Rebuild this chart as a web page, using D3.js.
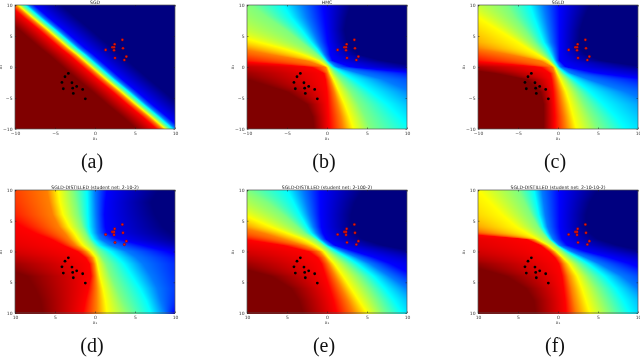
<!DOCTYPE html>
<html>
<head>
<meta charset="utf-8">
<script src="https://cdn.jsdelivr.net/npm/d3@7"></script>
<style>
  html, body { margin: 0; padding: 0; background: #fff; }
  #wrap { position: relative; width: 640px; height: 358px; overflow: hidden; }
  canvas { position: absolute; filter: blur(0.7px); clip-path: inset(0); }
  svg { position: absolute; left: 0; top: 0; filter: blur(0.25px); }
</style>
</head>
<body>
<div id="wrap"></div>
<script>
// the heat fields are kept as contours: for each level, where it crosses each row (x1 at that x2)
var rowsY = [10, 8, 6, 4, 3, 2, 1, 0, -1, -2, -4, -6, -8, -10];
var levels = [1, 0.89, 0.77, 0.65, 0.5, 0.36, 0.23, 0.11, 0];

var sgdField = [
  [-13.2, -11.4, -9.5, -7.7, -6.8, -5.8, -4.9, -4, -3.1, -2.2, -0.3, 1.5, 3.4, 5.2],
  [-10.7, -8.9, -7, -5.2, -4.3, -3.3, -2.4, -1.5, -0.6, 0.3, 2.2, 4, 5.9, 7.7],
  [-10, -8.2, -6.3, -4.5, -3.6, -2.6, -1.7, -0.8, 0.1, 1, 2.9, 4.7, 6.6, 8.4],
  [-9.6, -7.8, -5.9, -4.1, -3.2, -2.2, -1.3, -0.4, 0.5, 1.4, 3.3, 5.1, 7, 8.8],
  [-9.2, -7.4, -5.5, -3.7, -2.8, -1.8, -0.9, 0, 0.9, 1.8, 3.7, 5.5, 7.4, 9.2],
  [-8.7, -6.9, -5, -3.2, -2.3, -1.3, -0.4, 0.5, 1.4, 2.3, 4.2, 6, 7.9, 9.7],
  [-8.3, -6.5, -4.6, -2.8, -1.9, -0.9, 0, 0.9, 1.8, 2.7, 4.6, 6.4, 8.3, 10.1],
  [-7.6, -5.8, -3.9, -2.1, -1.2, -0.2, 0.7, 1.6, 2.5, 3.4, 5.3, 7.1, 9, 10.8],
  [-4.2, -2.4, -0.5, 1.3, 2.2, 3.2, 4.1, 5, 5.9, 6.8, 8.7, 10.5, 12.4, 14.2]
];
var hmcField = [
  [-40, -38, -36, -34, -32, -30, -28, -18, -13, -10, -5, -2.5, -1.8, -1.6],
  [-28, -26, -24, -22, -20, -17, -12, -2, -0.4, -0.2, 0, 0.1, 0.2, 0.3],
  [-24, -22, -19, -15, -11, -7, -2.5, -0.2, 0.1, 0.4, 0.9, 1.3, 1.7, 2],
  [-20, -18, -14, -8.5, -5.5, -3, -1, 0.1, 0.4, 0.8, 1.5, 2.2, 2.8, 3.3],
  [-9.5, -7.5, -5.2, -3.2, -2.2, -1.2, -0.3, 0.4, 1, 1.7, 3, 4, 4.8, 5.5],
  [-5.5, -4.5, -3.2, -2, -1.3, -0.7, -0.1, 0.7, 2, 3.3, 5.5, 7.5, 9, 10.5],
  [-3, -2.5, -1.8, -1.1, -0.7, -0.3, 0.2, 1.2, 4, 7, 10.5, 13, 15, 17],
  [-0.5, -0.3, -0.1, 0.1, 0.3, 0.4, 0.7, 3, 11, 16, 20, 22, 24, 26],
  [3, 2.5, 2.2, 2.5, 3, 4, 7, 12, 20, 24, 28, 30, 32, 34]
];
var sgldField = [
  [-40, -38, -36, -34, -32, -30, -26, -14, -8, -4, -2.2, -1.8, -1.8, -1.8],
  [-26, -24, -22, -20, -18, -15, -11, -2.2, -1, -0.8, -0.6, -0.5, -0.4, -0.4],
  [-20, -18, -16, -13, -10, -6, -2.2, -0.7, -0.4, -0.2, 0.2, 0.5, 0.8, 1],
  [-13, -10, -7.5, -5, -3.8, -2.5, -1.2, -0.4, -0.1, 0.3, 1, 1.5, 1.9, 2.3],
  [-6.5, -5.5, -4.2, -3, -2.3, -1.6, -0.9, -0.2, 0.4, 1.2, 2.4, 3.3, 4.2, 5],
  [-3.5, -3, -2.4, -1.8, -1.3, -0.9, -0.5, 0, 0.9, 2, 4, 5.7, 7.2, 8.5],
  [-1.8, -1.5, -1.2, -0.9, -0.6, -0.4, -0.2, 0.3, 1.6, 3.8, 8.5, 12, 14, 16],
  [0.2, 0.2, 0.2, 0.2, 0.2, 0.2, 0.2, 1, 5, 11, 18, 22, 24, 26],
  [4, 3.3, 2.8, 2.6, 2.8, 3.5, 5.5, 11, 18, 24, 28, 30, 32, 34]
];
var distilled10Field = [
  [-50, -48, -46, -44, -42, -40, -34, -26, -18, -13, -8.5, -7.5, -6.8, -6.5],
  [-14, -13, -11.5, -9, -7.5, -5.5, -4, -2.2, -1.2, -0.7, -0.5, -0.8, -1.2, -1.5],
  [-6, -5.7, -5.3, -4.5, -3.8, -3.2, -2.4, -1.2, -0.4, -0.1, 0.1, 0.2, 0.2, 0.2],
  [-4.6, -4.4, -4, -3.2, -2.6, -2.1, -1.5, -0.5, 0.1, 0.3, 0.6, 1, 1.3, 1.5],
  [-2.7, -2.4, -2.1, -1.6, -1.2, -0.8, -0.2, 0.4, 0.9, 1.4, 2, 2.7, 3.4, 4.2],
  [-1, -0.95, -0.9, -0.8, -0.6, -0.2, 0.5, 1.9, 2.8, 3.6, 4.6, 5.6, 6.4, 7],
  [0, 0.05, 0.1, 0.2, 0.3, 0.7, 2, 4, 5.2, 6, 7, 7.8, 8.2, 8.7],
  [1.5, 1.3, 1.2, 1.3, 1.5, 3, 6, 9, 11, 12, 12, 12, 11, 9.8],
  [8, 7, 7.5, 8.5, 9.5, 11, 13, 16, 20, 24, 28, 30, 32, 34]
];
var distilled100Field = [
  [-50, -48, -46, -44, -42, -40, -36, -26, -18, -13, -7, -4.5, -3.5, -3],
  [-28, -26, -24, -20, -16, -10.5, -5.5, -2.3, -1.2, -0.7, -0.2, 0.3, 0.8, 1.2],
  [-20, -18, -15, -11, -8, -5.5, -2.9, -1, -0.3, 0.2, 1, 1.8, 2.6, 3.3],
  [-16, -14, -10.5, -7, -5, -2.9, -1.5, -0.4, 0.2, 0.9, 2, 3, 4, 5],
  [-10, -7.5, -5.5, -3.7, -2.8, -1.5, -0.5, 0.4, 1.4, 2.4, 4, 5.2, 6.2, 7],
  [-5, -4.2, -3.4, -2.5, -2, -1.1, -0.1, 1.2, 2.6, 3.8, 5.8, 7.2, 8.4, 9.4],
  [-3, -2.6, -2.2, -1.7, -1.3, -0.7, 0.3, 2, 3.8, 5.4, 7.8, 10, 12, 13],
  [-0.8, -0.8, -0.8, -0.7, -0.5, -0.1, 1, 3.5, 6, 8, 11, 14, 16, 18],
  [4.5, 3.5, 3, 3, 3.5, 4.5, 7, 11, 15, 20, 25, 28, 30, 32]
];
var distilledDeepField = [
  [-50, -48, -46, -44, -42, -40, -36, -26, -18, -12, -6.5, -4, -3, -2.8],
  [-28, -26, -24, -22, -13, -4, -2.2, -1.2, -0.4, 0.1, 0.5, 0.7, 0.9, 1],
  [-22, -20, -17, -12, -8.5, -3.2, -1.7, -0.6, 0.2, 0.7, 1.3, 1.7, 2, 2.3],
  [-10, -8.5, -7, -5.2, -3.9, -2.6, -1.2, -0.2, 0.6, 1.4, 2.4, 3, 3.5, 4],
  [-5, -4.2, -3.4, -2.5, -1.9, -1.2, -0.3, 0.6, 1.5, 2.5, 3.9, 5, 5.8, 6.5],
  [-3, -2.7, -2.4, -1.9, -1.5, -1, -0.1, 1.1, 2.5, 3.8, 5.8, 7.2, 8.2, 9],
  [-2, -1.8, -1.6, -1.3, -1, -0.6, 0.2, 1.7, 3.5, 5.2, 8, 10, 12, 13],
  [0.2, 0.2, 0.2, 0.2, 0.3, 0.5, 1.2, 3.5, 6.5, 9, 13, 15, 17, 19],
  [5, 4, 3.5, 3.5, 4, 5, 7.5, 11, 15, 20, 25, 28, 30, 32]
];

var blackX = [-3.33, -3.75, -4.13, -2.88, -2.29, -2.79, -3.96, -1.54, -2.71, -1.21];
var blackY = [-1.03, -1.57, -2.49, -2.54, -3.14, -3.41, -3.51, -3.62, -4.27, -5.14];
var redX = [2.46, 3.42, 2.17, 2.38, 2.38, 1.33, 3.5, 2.5, 3.92, 3.67];
var redY = [3.68, 4.38, 3.19, 3.19, 2.7, 2.76, 3.03, 1.46, 1.68, 1.14];

var tickValues = [-10, -5, 0, 5, 10];
var topTickLabels = ['\u221210', '\u22125', '0', '5', '10'];
var bottomTickLabels = ['10', '5', '0', '5', '10'];

var panelNames = ['(a)', '(b)', '(c)', '(d)', '(e)', '(f)'];
var panelTitles = ['SGD', 'HMC', 'SGLD',
  'SGLD-DISTILLED (student net: 2-10-2)',
  'SGLD-DISTILLED (student net: 2-100-2)',
  'SGLD-DISTILLED (student net: 2-10-10-2)'];
var panelFields = [sgdField, hmcField, sgldField, distilled10Field, distilled100Field, distilledDeepField];

var jet = d3.scaleLinear()
  .domain([0, 0.11, 0.36, 0.5, 0.65, 0.89, 1])
  .range(['#000080', '#0000ff', '#00ffff', '#7fff7f', '#ffff00', '#ff0000', '#800000'])
  .clamp(true);

var columnLeft = [15, 247, 478];
var rowTop = [5, 190];
var plotW = 160, plotH = 124;

var wrap = d3.select('#wrap');
var svg = wrap.append('svg').attr('width', 640).attr('height', 358);

panelNames.forEach(function (name, i) {
  var left = columnLeft[i % 3], row = i < 3 ? 0 : 1, top = rowTop[row];
  var labels = row ? bottomTickLabels : topTickLabels;
  var x = d3.scaleLinear().domain([-10, 10]).range([0, plotW]);
  var y = d3.scaleLinear().domain([-10, 10]).range([plotH - (row ? 1 : 0), 0]);

  // heat field: one piecewise scale per pixel row, built from the contours
  var contourAt = panelFields[i].map(function (xs) {
    return d3.scaleLinear().domain(rowsY).range(xs);
  });
  var canvas = wrap.append('canvas')
    .attr('width', plotW).attr('height', plotH)
    .style('left', left + 'px').style('top', top + 'px')
    .lower();
  var ctx = canvas.node().getContext('2d');
  d3.range(plotH).forEach(function (py) {
    var yVal = y.invert(py + 0.5);
    var rowLevel = d3.scaleLinear()
      .domain(contourAt.map(function (c) { return c(yVal); }))
      .range(levels)
      .clamp(true);
    d3.range(plotW).forEach(function (px) {
      ctx.fillStyle = jet(rowLevel(x.invert(px + 0.5)));
      ctx.fillRect(px, py, 1, 1);
    });
  });

  var g = svg.append('g').attr('transform', 'translate(' + left + ',' + top + ')');

  g.append('rect').attr('width', plotW).attr('height', y(-10))
    .attr('fill', 'none').attr('stroke', '#555').attr('stroke-width', 0.7);

  var axes = [
    [d3.axisBottom(x), 0, y(-10), true],
    [d3.axisLeft(y), 0, 0, true],
    [d3.axisTop(x), 0, 0, false],
    [d3.axisRight(y), plotW, 0, false]
  ];
  axes.forEach(function (a) {
    var ax = g.append('g')
      .attr('transform', 'translate(' + a[1] + ',' + a[2] + ')')
      .call(a[0].tickValues(tickValues).tickSize(-1.5).tickPadding(2.5)
        .tickFormat(function (d, k) { return a[3] ? labels[k] : ''; }));
    ax.select('.domain').remove();
    ax.selectAll('line').attr('stroke', '#222').attr('stroke-width', 0.5);
    ax.selectAll('text').attr('fill', '#333').style('font', '4.5px "DejaVu Sans"');
  });

  redX.forEach(function (d, k) {
    g.append('circle').attr('cx', x(d)).attr('cy', y(redY[k])).attr('r', 1.3)
      .attr('fill', '#e8140c').attr('stroke', '#500').attr('stroke-width', 0.3);
  });
  blackX.forEach(function (d, k) {
    g.append('circle').attr('cx', x(d)).attr('cy', y(blackY[k])).attr('r', 1.4).attr('fill', '#000');
  });

  g.append('text').attr('x', plotW / 2).attr('y', -1.5).attr('text-anchor', 'middle')
    .style('font', '4.6px "DejaVu Sans"').attr('fill', '#222').text(panelTitles[i]);
  g.append('text').attr('x', plotW / 2).attr('y', y(-10) + 10.5).attr('text-anchor', 'middle')
    .style('font', '4.5px "DejaVu Sans"').attr('fill', '#333').text('x\u2081');
  g.append('text').attr('transform', 'translate(-13,' + (plotH / 2) + ') rotate(-90)')
    .attr('text-anchor', 'middle')
    .style('font', '4.5px "DejaVu Sans"').attr('fill', '#333').text('x\u2082');

  svg.append('text').attr('x', left + plotW / 2 - 3).attr('y', row ? 352 : 168)
    .attr('text-anchor', 'middle')
    .style('font', '20px "Liberation Serif"').attr('fill', '#111').text(name);
});
</script>
</body>
</html>
